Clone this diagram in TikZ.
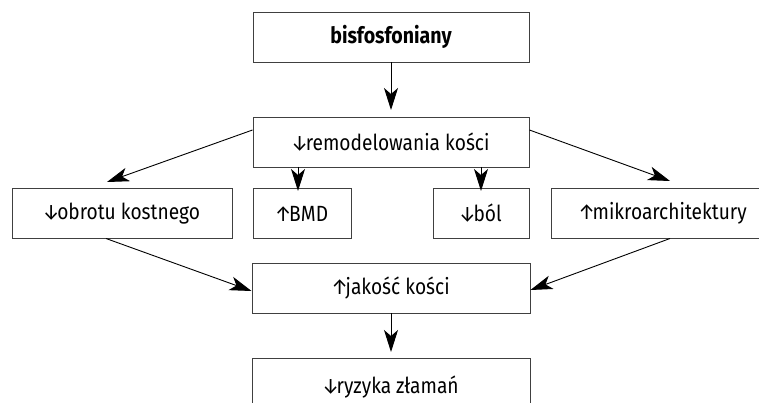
\documentclass[tikz,border=0pt]{standalone}
\usepackage{fontspec}
\setmainfont[FakeStretch=0.87]{Fira Sans}
\usetikzlibrary{arrows.meta}
\newcommand{\dnarr}{\kern-0.06em↓\kern-0.12em}
\newcommand{\uparr}{\kern-0.06em↑\kern-0.12em}
\begin{document}
\begin{tikzpicture}[x=1pt,y=-1pt,
  box/.style={draw=black!75,line width=0.9pt,rectangle,inner sep=0pt,minimum height=50pt,font=\fontsize{22}{26}\selectfont},
  conn/.style={line width=0.9pt,-{Stealth[length=22pt,width=14pt,inset=6pt]}}]
\useasboundingbox (0,0) rectangle (759,403);
\clip (0,0) rectangle (759,403);
\node[box,minimum width=276pt,font=\fontsize{22.5}{26}\selectfont\bfseries] (bis) at (391,37) {bisfosfoniany};
\node[box,minimum width=276pt] (rem) at (391,142) {\dnarr remodelowania kości};
\node[box,minimum width=220pt] (obr) at (122,213.5) {\dnarr obrotu kostnego};
\node[box,minimum width=98pt] (bmd) at (302,213.5) {\uparr BMD};
\node[box,minimum width=96pt] (bol) at (481,213.5) {\dnarr ból};
\node[box,minimum width=224pt] (mik) at (663,213.5) {\uparr mikroarchitektury};
\node[box,minimum width=278pt] (jak) at (391,288) {\uparr jakość kości};
\node[box,minimum width=278pt,minimum height=58pt] (ryz) at (391,387) {\dnarr ryzyka złamań};
\coordinate (remin) at (391,110);
\coordinate (ryzin) at (391,352);
\draw[conn] (bis.south) -- (remin);
\draw[conn] (rem.west |- 0,130) -- (107,182);
\draw[conn] (298,167) -- (298,191);
\draw[conn] (481,167) -- (481,191);
\draw[conn] (rem.east |- 0,130) -- (670,181);
\draw[conn] (106,238.5) -- (jak.west |- 0,291);
\draw[conn] (670,238.5) -- (jak.east |- 0,290);
\draw[conn] (jak.south) -- (ryzin);
\end{tikzpicture}
\end{document}
